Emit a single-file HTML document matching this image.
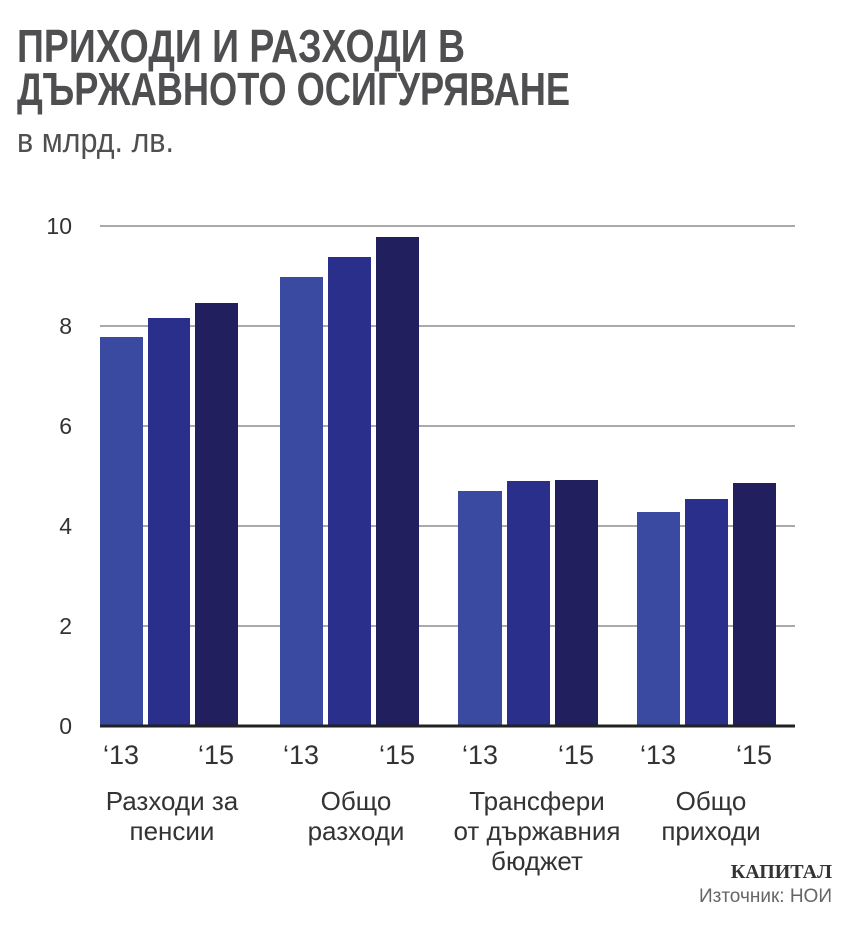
<!DOCTYPE html>
<html><head><meta charset="utf-8"><style>
html,body{margin:0;padding:0;background:#fff;}
svg{display:block;}
</style></head><body>
<svg width="850" height="926" xmlns="http://www.w3.org/2000/svg" font-family="Liberation Sans, sans-serif">
<g fill="#4f4f51" font-weight="bold" font-family="Liberation Sans Narrow, Liberation Sans, sans-serif">
<text x="17" y="62" font-size="46" textLength="448" lengthAdjust="spacingAndGlyphs">ПРИХОДИ И РАЗХОДИ В</text>
<text x="17" y="105" font-size="46" textLength="553" lengthAdjust="spacingAndGlyphs">ДЪРЖАВНОТО ОСИГУРЯВАНЕ</text>
</g>
<text x="17" y="152" font-size="34" fill="#4f4f51" textLength="157" lengthAdjust="spacingAndGlyphs">в млрд. лв.</text>
<g stroke="#555" stroke-width="1">
<line x1="100" y1="226" x2="795" y2="226"/>
<line x1="100" y1="326" x2="795" y2="326"/>
<line x1="100" y1="426" x2="795" y2="426"/>
<line x1="100" y1="526" x2="795" y2="526"/>
<line x1="100" y1="626" x2="795" y2="626"/>
</g>
<g font-size="23" fill="#333" text-anchor="end">
<text x="72" y="234">10</text><text x="72" y="334">8</text><text x="72" y="434">6</text>
<text x="72" y="534">4</text><text x="72" y="634">2</text><text x="72" y="734">0</text>
</g>
<g>
<rect x="100" y="337" width="43" height="389" fill="#3a4aa0"/>
<rect x="148" y="318" width="42" height="408" fill="#2b2f8c"/>
<rect x="195" y="303" width="43" height="423" fill="#221f5e"/>
<rect x="280" y="277" width="43" height="449" fill="#3a4aa0"/>
<rect x="328" y="257" width="43" height="469" fill="#2b2f8c"/>
<rect x="376" y="237" width="43" height="489" fill="#221f5e"/>
<rect x="458" y="491" width="44" height="235" fill="#3a4aa0"/>
<rect x="507" y="481" width="43" height="245" fill="#2b2f8c"/>
<rect x="555" y="480" width="43" height="246" fill="#221f5e"/>
<rect x="637" y="512" width="43" height="214" fill="#3a4aa0"/>
<rect x="685" y="499" width="43" height="227" fill="#2b2f8c"/>
<rect x="733" y="483" width="43" height="243" fill="#221f5e"/>
</g>
<line x1="100" y1="726" x2="795" y2="726" stroke="#222" stroke-width="3"/>
<g font-size="27" fill="#333" text-anchor="middle">
<text x="121" y="764">‘13</text><text x="216" y="764">‘15</text>
<text x="301" y="764">‘13</text><text x="397" y="764">‘15</text>
<text x="480" y="764">‘13</text><text x="576" y="764">‘15</text>
<text x="658" y="764">‘13</text><text x="754" y="764">‘15</text>
</g>
<g font-size="26" fill="#333" text-anchor="middle">
<text x="172" y="810">Разходи за</text><text x="172" y="840">пенсии</text>
<text x="356" y="810">Общо</text><text x="356" y="840">разходи</text>
<text x="537" y="810">Трансфери</text><text x="537" y="840">от държавния</text><text x="537" y="870">бюджет</text>
<text x="711" y="810">Общо</text><text x="711" y="840">приходи</text>
</g>
<text x="832" y="878" font-size="20" font-weight="bold" font-family="Liberation Serif, serif" fill="#333" text-anchor="end">КАПИТАЛ</text>
<text x="832" y="902" font-size="19" fill="#666" text-anchor="end">Източник: НОИ</text>
</svg>
</body></html>
